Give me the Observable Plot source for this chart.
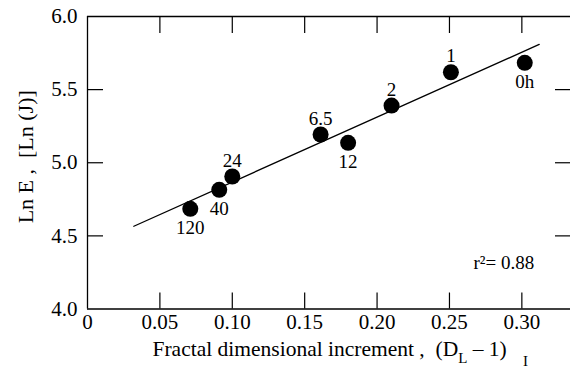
<!DOCTYPE html>
<html>
<head>
<meta charset="utf-8">
<script src="https://cdn.jsdelivr.net/npm/d3@7"></script>
<script src="https://cdn.jsdelivr.net/npm/@observablehq/plot@0.6"></script>
<style>
  html, body { margin: 0; padding: 0; background: #fff; overflow: hidden; }
  svg, svg text, svg g { font-family: 'Liberation Serif', 'Times New Roman', Times, serif !important; font-variant: normal !important; }
  svg text { white-space: pre; }
</style>
</head>
<body>
<div id="chart"></div>
<script>
// Data
const timeLabels = ["120", "40", "24", "6.5", "12", "2", "1", "0h"];
const increment = [0.071, 0.091, 0.100, 0.161, 0.180, 0.210, 0.251, 0.302];
const lnE = [4.685, 4.815, 4.906, 5.193, 5.136, 5.391, 5.619, 5.683];
const fitX = [0.032, 0.312];
const fitY = [4.566, 5.809];
const xTicks = [0, 0.05, 0.10, 0.15, 0.20, 0.25, 0.30];
const yTicks = [4.0, 4.5, 5.0, 5.5, 6.0];
const innerXTicks = [0.05, 0.10, 0.15, 0.20, 0.25, 0.30];
const innerYTicks = [4.5, 5.0, 5.5];
const r2Text = "r\u00B2= 0.88";
const yTitle = "Ln E ,  [Ln (J)]";
const xTitle = "Fractal dimensional increment ,  (D";

const points = timeLabels.map((t, i) => ({label: t, x: increment[i], y: lnE[i]}));
const fit = fitX.map((x, i) => ({x, y: fitY[i]}));
const aboveSet = new Set(["24", "6.5", "2", "1"]);

const serif = "'Liberation Serif', 'Times New Roman', Times, serif";

const chart = Plot.plot({
  width: 570,
  height: 368,
  marginLeft: 87,
  marginRight: 0,
  marginTop: 16,
  marginBottom: 59.5,
  style: {fontFamily: serif, fontSize: "21px", background: "#fff", color: "#000", overflow: "visible"},
  x: {domain: [0, 0.3336]},
  y: {domain: [4, 6]},
  marks: [
    // frame (left, top, bottom)
    Plot.ruleY([4, 6], {stroke: "#000", strokeWidth: 1.3}),
    Plot.ruleX([0], {stroke: "#000", strokeWidth: 1.3}),
    // inward ticks
    Plot.axisX({anchor: "bottom", ticks: innerXTicks, tickSize: -16, tickFormat: () => "", label: null, strokeWidth: 1.2}),
    Plot.axisX({anchor: "top", ticks: innerXTicks, tickSize: -16, tickFormat: () => "", label: null, strokeWidth: 1.2}),
    Plot.axisY({anchor: "left", ticks: innerYTicks, tickSize: -16, tickFormat: () => "", label: null, strokeWidth: 1.2}),
    Plot.axisY({anchor: "right", ticks: innerYTicks, tickSize: -16, tickFormat: () => "", label: null, strokeWidth: 1.2}),
    // tick labels
    Plot.axisX({anchor: "bottom", ticks: xTicks, tickSize: 0, tickPadding: 5, label: null,
      tickFormat: d => d === 0 ? "0" : d.toFixed(2), fontSize: 21}),
    Plot.axisY({anchor: "left", ticks: yTicks, tickSize: 0, tickPadding: 10, label: null,
      tickFormat: d => d.toFixed(1), fontSize: 21}),
    // regression line
    Plot.line(fit, {x: "x", y: "y", stroke: "#000", strokeWidth: 1.3}),
    // points
    Plot.dot(points, {x: "x", y: "y", r: 8, fill: "#000", stroke: null}),
    // point labels
    Plot.text(points.filter(d => aboveSet.has(d.label)), {x: "x", y: "y", text: "label", dy: -16, fontSize: 19}),
    Plot.text(points.filter(d => !aboveSet.has(d.label)), {x: "x", y: "y", text: "label", dy: 19, fontSize: 19}),
    // r^2 annotation
    Plot.text([r2Text], {frameAnchor: "bottom-left", textAnchor: "start", lineAnchor: "bottom", dx: 386, dy: -40, fontSize: 19}),
    // y title
    Plot.text([yTitle], {frameAnchor: "left", textAnchor: "middle", rotate: -90, dx: -62, dy: -6, fontSize: 22, lineAnchor: "middle"}),
    // x title
    Plot.text([xTitle], {frameAnchor: "bottom-left", textAnchor: "start", lineAnchor: "bottom", dx: 65, dy: 46.5, fontSize: 21.5, className: "xtitle"})
  ]
});

document.getElementById("chart").appendChild(chart);

// add subscripts to x title
const t = d3.select(chart).select(".xtitle text");
if (!t.empty()) {
  t.text(xTitle);
  t.append("tspan").attr("font-size", 15).attr("dy", 7).text("L");
  t.append("tspan").attr("dy", -7).text(" \u2013 1)   ");
  t.append("tspan").attr("font-size", 15).attr("dy", 10).text("I");
}
</script>
</body>
</html>
